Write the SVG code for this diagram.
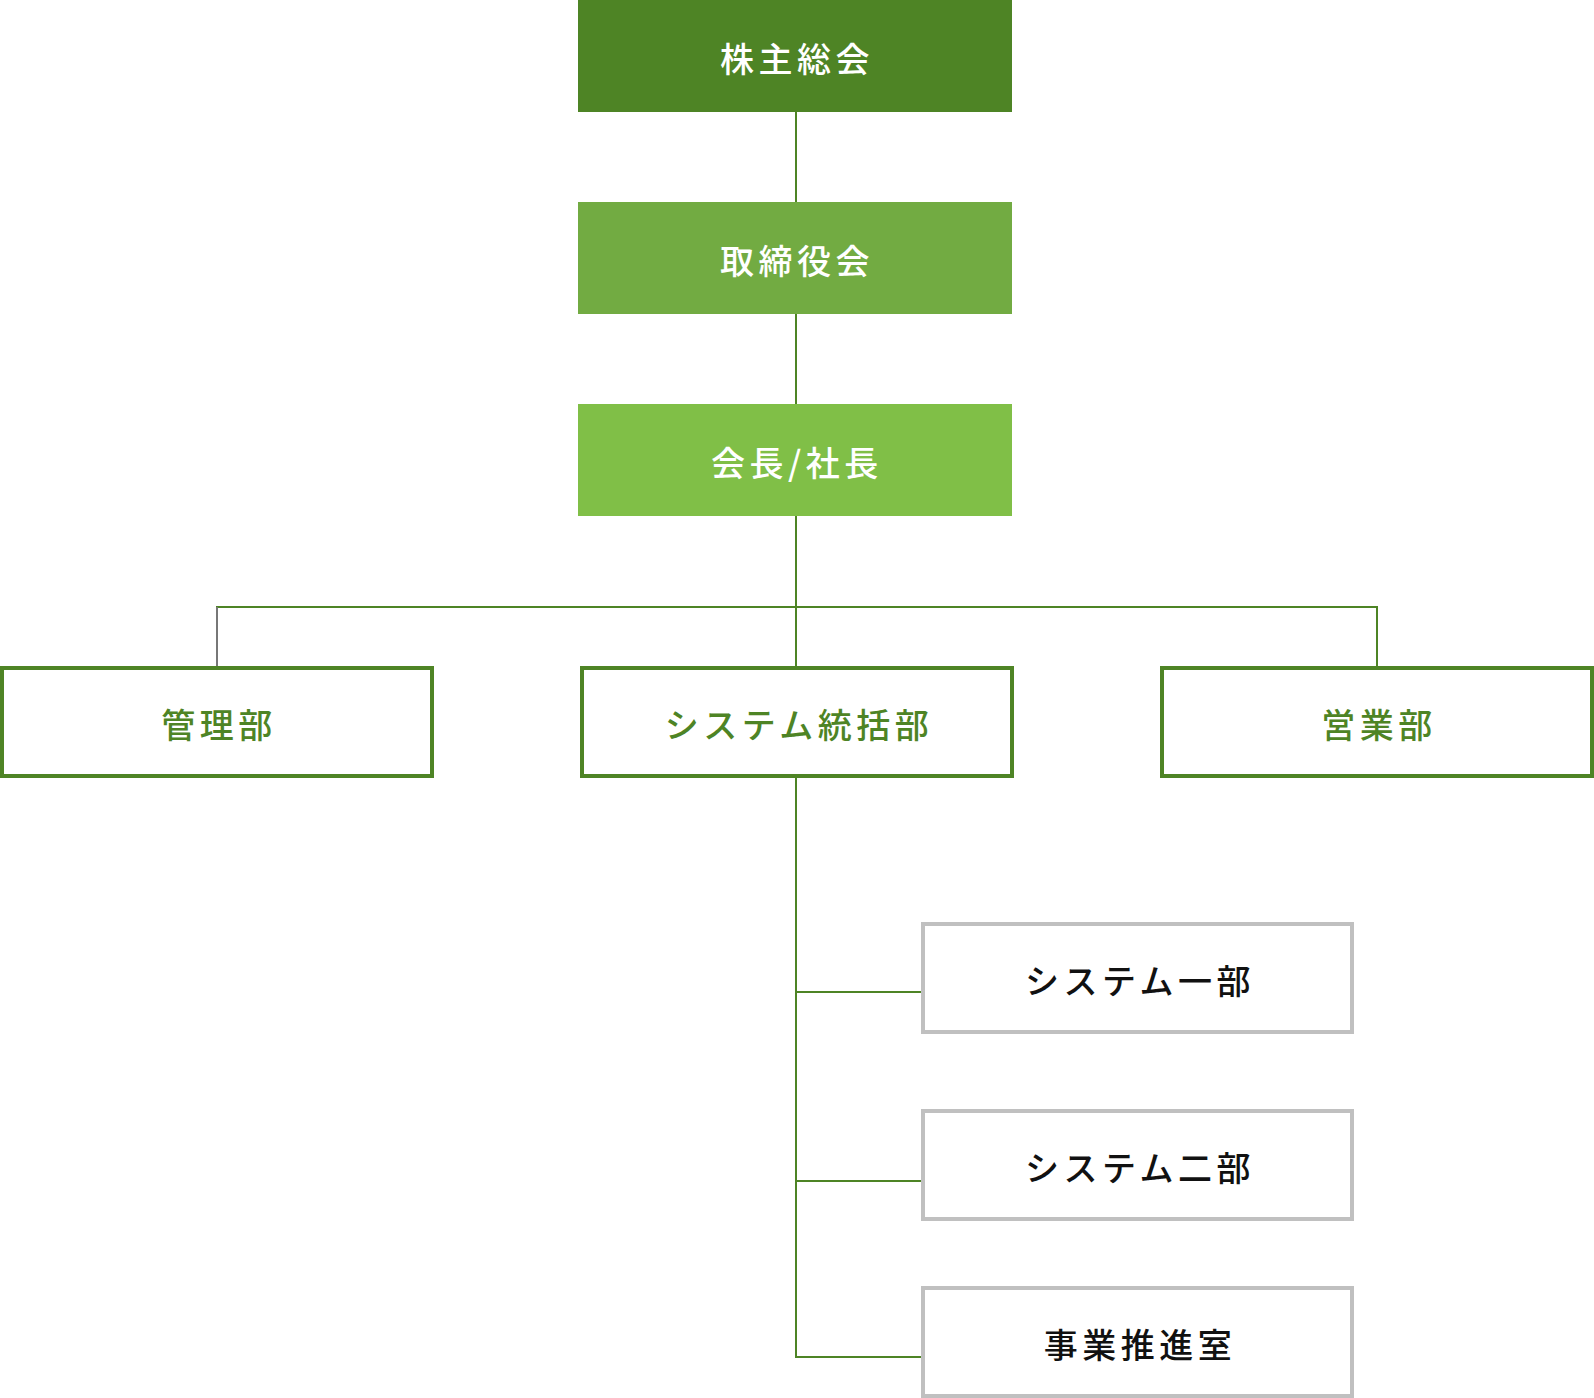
<svg xmlns="http://www.w3.org/2000/svg" width="1594" height="1398" viewBox="0 0 1594 1398">
<style>
text{font-family:"Noto Sans CJK JP","Noto Sans CJK SC",sans-serif;font-size:34px;font-weight:500;text-anchor:middle;dominant-baseline:central;letter-spacing:4.5px}
.w{fill:#ffffff}
.g{fill:#4e8425}
.k{fill:#111111}
.gb{fill:#ffffff;stroke:#4e8425;stroke-width:4}
.gr{fill:#ffffff;stroke:#c0c0c0;stroke-width:4}
.ln{fill:none;stroke:#4e8425;stroke-width:2}
.lg{fill:none;stroke:#777777;stroke-width:2}
</style>
<g id="connectors">
<line class="ln" x1="796" y1="112" x2="796" y2="202"/>
<line class="ln" x1="796" y1="314" x2="796" y2="404"/>
<line class="ln" x1="796" y1="516" x2="796" y2="666"/>
<line class="ln" x1="216" y1="607" x2="1377" y2="607"/>
<line class="lg" x1="217" y1="607" x2="217" y2="666"/>
<line class="ln" x1="1377" y1="606" x2="1377" y2="666"/>
<polyline class="ln" points="796,778 796,1357 921,1357"/>
<line class="ln" x1="796" y1="992" x2="921" y2="992"/>
<line class="ln" x1="796" y1="1181" x2="921" y2="1181"/>
</g>
<g id="n-kabunushi">
<rect x="578" y="0" width="434" height="112" fill="#4e8425"/>
<text class="w" x="797" y="57">株主総会</text>
</g>
<g id="n-torishimariyaku">
<rect x="578" y="202" width="434" height="112" fill="#72ab42"/>
<text class="w" x="797" y="259">取締役会</text>
</g>
<g id="n-kaicho">
<rect x="578" y="404" width="434" height="112" fill="#80bf47"/>
<text class="w" x="797" y="461">会長/社長</text>
</g>
<g id="n-kanri">
<rect class="gb" x="2" y="668" width="430" height="108"/>
<text class="g" x="219" y="723">管理部</text>
</g>
<g id="n-system">
<rect class="gb" x="582" y="668" width="430" height="108"/>
<text class="g" x="799" y="723">システム統括部</text>
</g>
<g id="n-eigyo">
<rect class="gb" x="1162" y="668" width="430" height="108"/>
<text class="g" x="1379" y="723">営業部</text>
</g>
<g id="n-sys1">
<rect class="gr" x="923" y="924" width="429" height="108"/>
<text class="k" x="1140" y="979">システム一部</text>
</g>
<g id="n-sys2">
<rect class="gr" x="923" y="1111" width="429" height="108"/>
<text class="k" x="1140" y="1166">システム二部</text>
</g>
<g id="n-jigyo">
<rect class="gr" x="923" y="1288" width="429" height="108"/>
<text class="k" x="1140" y="1343">事業推進室</text>
</g>
</svg>
